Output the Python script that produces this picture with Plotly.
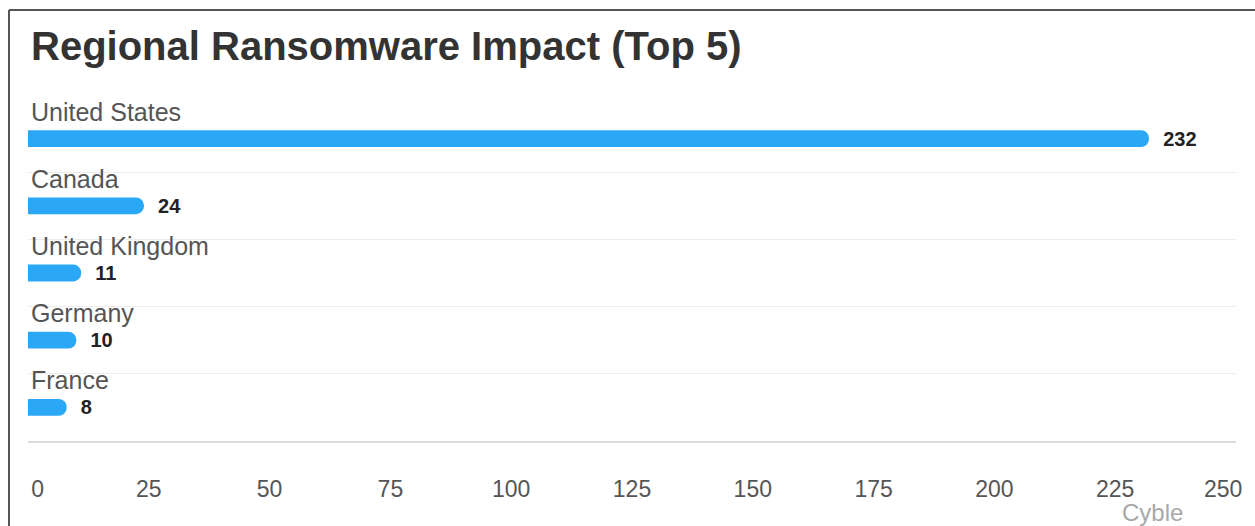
import plotly.graph_objects as go

countries = ["United States", "Canada", "United Kingdom", "Germany", "France"]
attacks = [232, 24, 11, 10, 8]
x_ticks = [0, 25, 50, 75, 100, 125, 150, 175, 200, 225, 250]
x_tick_labels = ["\u00a0\u00a0\u00a0" + "0", "25", "50", "75", "100", "125",
                 "150", "175", "200", "225", "250" + "\u00a0\u00a0\u00a0\u00a0"]

W, H = 1255, 526
L, R, T, B = 28, 19, 105, 85
pw, ph = W - L - R, H - T - B

def px_x(p):
    return (p - L) / pw

def px_y(p):
    return (H - B - p) / ph

FONT = "Liberation Sans, Arial, sans-serif"

fig = go.Figure()
fig.add_trace(go.Bar(
    x=attacks,
    y=countries,
    orientation="h",
    width=0.25,
    marker=dict(color="#2aa8f6", cornerradius=9, line=dict(width=0)),
    text=attacks,
    texttemplate="\u00a0\u00a0%{text}",
    textposition="outside",
    constraintext="none",
    cliponaxis=False,
    textfont=dict(family=FONT, size=20, color="#222222", weight="bold"),
    hoverinfo="skip",
))

annotations = [
    dict(text=c, x=0, y=c, xref="x", yref="y",
         xanchor="left", yanchor="middle", xshift=1, yshift=27,
         showarrow=False, font=dict(family=FONT, size=25, color="#555555"))
    for c in countries
]
annotations.append(
    dict(text="Cyble", xref="paper", yref="paper",
         x=px_x(1152), y=px_y(512), xanchor="center", yanchor="middle",
         showarrow=False, font=dict(family=FONT, size=24, color="#a8a8a8"))
)

fig.update_layout(
    width=W, height=H,
    margin=dict(l=L, r=R, t=T, b=B, pad=0, autoexpand=False),
    paper_bgcolor="white",
    plot_bgcolor="white",
    showlegend=False,
    font=dict(family=FONT),
    title=dict(
        text="<b>Regional Ransomware Impact (Top 5)</b>",
        font=dict(family=FONT, size=40, color="#333333"),
        xref="container", yref="container",
        x=31 / W, xanchor="left",
        y=1 - 46 / H, yanchor="middle",
    ),
    xaxis=dict(
        range=[0, 250],
        tickvals=x_ticks,
        ticktext=x_tick_labels,
        ticklabeloverflow="allow",
        showgrid=False,
        zeroline=False,
        showline=True,
        linecolor="#dcdcdc",
        linewidth=2,
        ticks="",
        automargin=False,
        ticklabelstandoff=26,
        tickfont=dict(family=FONT, size=23, color="#555555"),
        fixedrange=True,
    ),
    yaxis=dict(
        categoryorder="array",
        categoryarray=countries,
        range=[4.5, -0.5],
        tickson="boundaries",
        showgrid=True,
        gridcolor="#ececec",
        gridwidth=1,
        zeroline=False,
        showline=False,
        ticks="",
        showticklabels=False,
        automargin=False,
        fixedrange=True,
    ),
    shapes=[
        dict(type="line", xref="paper", yref="paper",
             x0=px_x(9), x1=px_x(1270), y0=px_y(10), y1=px_y(10),
             line=dict(color="#555555", width=2)),
        dict(type="line", xref="paper", yref="paper",
             x0=px_x(9), x1=px_x(9), y0=px_y(10), y1=px_y(540),
             line=dict(color="#555555", width=2)),
    ],
    annotations=annotations,
)

fig.write_html("out.html")
